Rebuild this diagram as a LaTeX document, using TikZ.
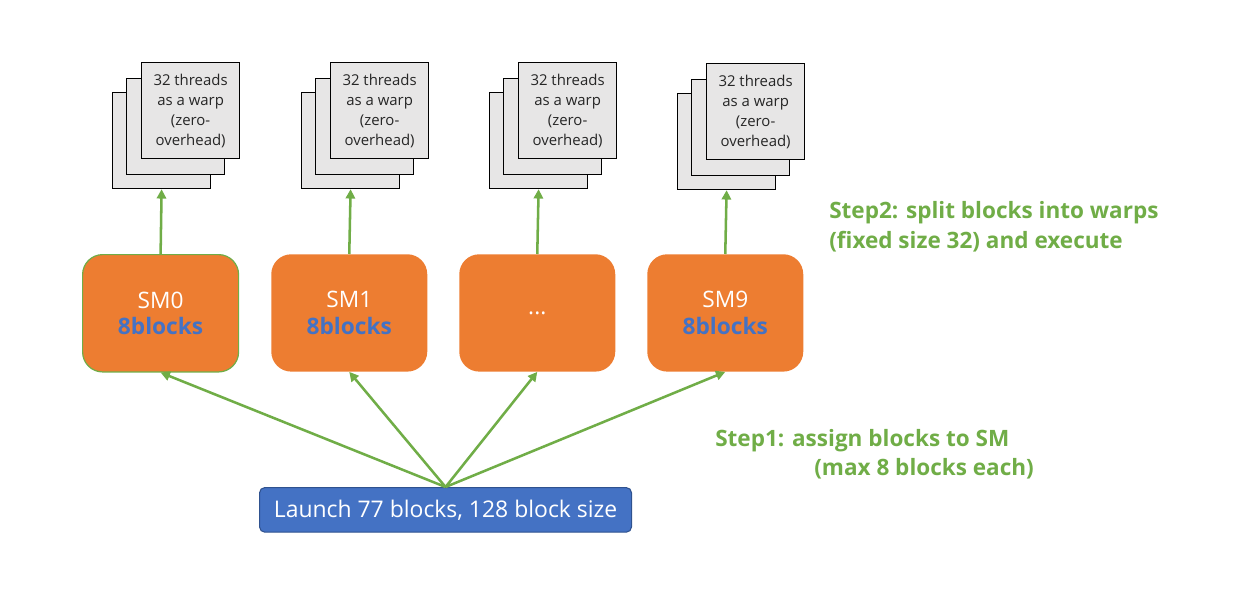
\documentclass[tikz,border=0pt]{standalone}
\usepackage{fontspec}
\setmainfont{Open Sans}
\usetikzlibrary{arrows.meta}
\definecolor{orng}{HTML}{ED7D31}
\definecolor{blu}{HTML}{4472C4}
\definecolor{blubd}{HTML}{2F528F}
\definecolor{grn}{HTML}{70AD47}
\definecolor{pg}{HTML}{E7E6E6}
\tikzset{
  page/.style={draw=black, line width=0.9pt, fill=pg, minimum width=73.5pt, minimum height=72pt, inner sep=0pt, anchor=north west},
  pagetext/.style={align=center, font=\fontsize{11.2pt}{15pt}\selectfont, text=black!85},
  sm/.style={fill=orng, rounded corners=15pt, minimum width=117pt, minimum height=88pt, inner sep=0pt, anchor=north west, align=center, text=white, font=\fontsize{17pt}{22pt}\selectfont},
  conn/.style={draw=grn, line width=1.9pt, -{Triangle[length=7pt,width=7pt]}},
  steptext/.style={text=grn, inner sep=0pt, font=\bfseries\fontsize{16.9pt}{22pt}\selectfont, anchor=base west},
}
\newcommand{\nb}{\textcolor{blu}{\bfseries 8blocks}}
\begin{document}
\begin{tikzpicture}[x=0.75pt,y=-0.75pt]
\useasboundingbox (0,0) rectangle (1250,597);
% page stacks
\foreach \i/\x/\y in {0/141/62, 1/330/62, 2/518/62, 9/706/63} {
  \node[page] (b\i) at (\x-29,\y+30) {};
  \node[page] (m\i) at (\x-15,\y+16) {};
  \node[page, pagetext] (f\i) at (\x,\y) {32 threads\\as a warp\\(zero-\\overhead)};
}
% SMs
\node[sm, draw=grn, line width=0.9pt] (s0) at (82,254) {SM0\\[-2pt]\nb};
\node[sm] (s1) at (271,254) {SM1\\[-2pt]\nb};
\node[sm] (s2) at (459,254) {...};
\node[sm] (s9) at (647,254) {SM9\\[-2pt]\nb};
% launch
\node[fill=blu, draw=blubd, line width=0.8pt, rounded corners=4pt, minimum width=279pt, minimum height=33.5pt, inner sep=0pt, anchor=north west, text=white, font=\fontsize{17.2pt}{20pt}\selectfont] (L) at (259,487) {Launch 77 blocks, 128 block size};
% arrows
\foreach \i in {0,1,2,9} {
  \draw[conn] (s\i.north) -- (b\i.south);
  \draw[conn] (L.north) -- (s\i.south);
}
% step texts
\node[steptext] (t2a) at (829,218) {Step2: split blocks into warps};
\node[steptext] (t2b) at (829,248) {(fixed size 32) and execute};
\node[steptext] (t1a) at (715,446) {Step1: assign blocks to SM};
\node[steptext] (t1b) at (814,475) {(max 8 blocks each)};
\end{tikzpicture}
\end{document}
